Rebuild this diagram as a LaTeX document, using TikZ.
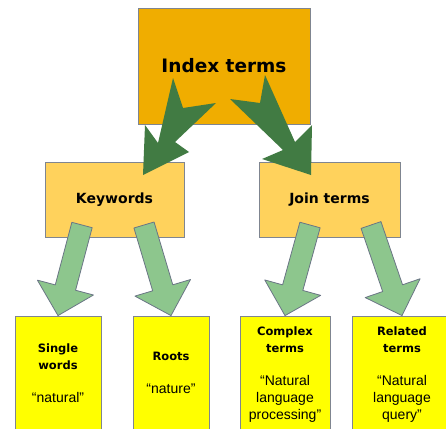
\documentclass[tikz,border=0pt]{standalone}
\usepackage{fontspec}
\setmainfont{Liberation Sans}
\newfontfamily\titlefont{DejaVu Sans}
\usetikzlibrary{calc}

\definecolor{topfill}{HTML}{F0AD00}
\definecolor{midfill}{HTML}{FFD25C}
\definecolor{leaffill}{HTML}{FFFF00}
\definecolor{boxgray}{HTML}{7F8590}
\definecolor{darkgreen}{HTML}{417B43}
\definecolor{lightgreen}{HTML}{8DC68D}
\definecolor{arrowgray}{HTML}{6A7585}

\newcommand\leafhead{\titlefont\bfseries\fontsize{11.5}{17}\selectfont}
\newcommand\leafquote{\normalfont\fontsize{14}{17}\selectfont}

% wide arrow from #2 to #3
\newcommand\fatarrow[3][]{%
  \draw[#1] ($(#2)!10.5pt!90:(#3)$)
    -- ($(#3)!29pt!(#2)!10.5pt!-90:(#2)$)
    -- ($(#3)!29pt!(#2)!29pt!-90:(#2)$)
    -- (#3)
    -- ($(#3)!29pt!(#2)!29pt!90:(#2)$)
    -- ($(#3)!29pt!(#2)!10.5pt!90:(#2)$)
    -- ($(#2)!10.5pt!-90:(#3)$) -- cycle;}

\tikzset{
  box/.style={draw=boxgray, line width=0.8pt, inner sep=0pt},
  topbox/.style={box, fill=topfill, minimum width=172pt, minimum height=116pt,
    font=\titlefont\bfseries\fontsize{18.5}{22}\selectfont},
  midbox/.style={box, fill=midfill, minimum height=75pt,
    font=\titlefont\bfseries\fontsize{14}{17}\selectfont},
  leafbox/.style={box, fill=leaffill, minimum height=130pt},
  leaftext/.style={align=center, anchor=base, inner sep=0pt, font=\leafquote},
  darkarrow/.style={fill=darkgreen},
  lightarrow/.style={fill=lightgreen, draw=arrowgray, line width=0.8pt, line join=round}
}

\begin{document}
\begin{tikzpicture}[x=1pt, y=-1pt]
\clip (0,0) rectangle (446,428);

% boxes
\node[topbox] (index) at (224,66) {Index terms};
\node[midbox, minimum width=139pt] (keywords) at (114.5,199.5) {Keywords};
\node[midbox, minimum width=141pt] (join) at (329.5,199.5) {Join terms};
\node[leafbox, minimum width=86pt] (single) at (58,381) {};
\node[leafbox, minimum width=76pt] (roots) at (171,381) {};
\node[leafbox, minimum width=90pt] (complex) at (285,381) {};
\node[leafbox, minimum width=100pt] (related) at (402,381) {};

% leaf texts (anchored at the last line)
\node[leaftext] (single-txt) at (58,402) {\leafhead Single\\\leafhead words\\[16pt]\leafquote “natural”};
\node[leaftext] (roots-txt) at (171,393) {\leafhead Roots\\[16pt]\leafquote “nature”};
\node[leaftext] (complex-txt) at (285,419) {\leafhead Complex\\\leafhead terms\\[16pt]\leafquote “Natural\\\leafquote language\\\leafquote processing”};
\node[leaftext] (related-txt) at (402,419) {\leafhead Related\\\leafhead terms\\[16pt]\leafquote “Natural\\\leafquote language\\\leafquote query”};

% dark arrows
\fill[darkarrow] (173,78) -- (183,108) -- (216,103) -- (175,142) -- (189,152)
  -- (143,175) -- (145,125) -- (158,143) -- cycle;
\fill[darkarrow] (265,75) -- (260,103) -- (230,99) -- (283,150) -- (262,159)
  -- (311,175) -- (312,125) -- (295,142) -- cycle;

% light arrows
\coordinate (kw-out1) at (82,225);
\coordinate (kw-out2) at (144,225);
\coordinate (jt-out1) at (310,225);
\coordinate (jt-out2) at (371,225);
\fatarrow[lightarrow]{kw-out1}{single.north}
\fatarrow[lightarrow]{kw-out2}{roots.north}
\fatarrow[lightarrow]{jt-out1}{complex.north}
\fatarrow[lightarrow]{jt-out2}{related.north}
\end{tikzpicture}
\end{document}
